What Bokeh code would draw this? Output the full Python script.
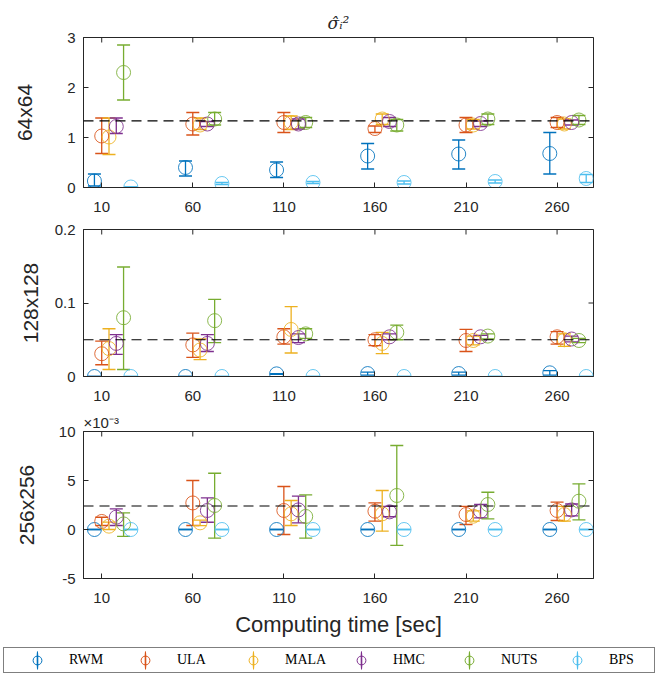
import math
from bokeh.plotting import figure
from bokeh.models import (ColumnDataSource, Whisker, TeeHead, Span, FixedTicker,
                          Range1d, Legend, LegendItem, Title)
from bokeh.layouts import column
from bokeh.embed import file_html
from bokeh.resources import INLINE

# ---------------- data ----------------
methods = ["RWM", "ULA", "MALA", "HMC", "NUTS", "BPS"]
colors = ["#0072BD", "#D95319", "#EDB120", "#7E2F8E", "#77AC30", "#4DBEEE"]
times = [10, 60, 110, 160, 210, 260]
time_labels = ["10", "60", "110", "160", "210", "260"]
method_offsets = [-4, 0, 4, 8, 12, 16]   # horizontal dodge per method (sec)
x_limits = (0, 280)

# 64x64 : rows = methods, columns = times
mean_64 = [[0.13, 0.40, 0.35, 0.63, 0.67, 0.68],
           [1.03, 1.27, 1.30, 1.18, 1.25, 1.30],
           [1.01, 1.25, 1.30, 1.37, 1.25, 1.27],
           [1.22, 1.27, 1.27, 1.32, 1.28, 1.30],
           [2.30, 1.37, 1.30, 1.25, 1.37, 1.35],
           [0.01, 0.08, 0.10, 0.10, 0.12, 0.18]]
low_64 = [[0.03, 0.23, 0.20, 0.37, 0.37, 0.27],
          [0.68, 1.05, 1.10, 1.10, 1.10, 1.20],
          [0.66, 1.16, 1.16, 1.26, 1.17, 1.17],
          [1.08, 1.22, 1.17, 1.22, 1.22, 1.25],
          [1.75, 1.25, 1.20, 1.13, 1.26, 1.26],
          [0.01, 0.06, 0.08, 0.07, 0.09, 0.10]]
high_64 = [[0.27, 0.53, 0.51, 0.88, 0.95, 1.10],
           [1.39, 1.50, 1.50, 1.23, 1.40, 1.40],
           [1.39, 1.39, 1.43, 1.47, 1.36, 1.37],
           [1.39, 1.32, 1.37, 1.40, 1.33, 1.35],
           [2.85, 1.50, 1.40, 1.36, 1.47, 1.44],
           [0.01, 0.10, 0.12, 0.13, 0.15, 0.26]]
true_64 = 1.333

# 128x128
mean_128 = [[0.0, 0.0, 0.0036, 0.004, 0.004, 0.005],
            [0.031, 0.043, 0.054, 0.050, 0.049, 0.054],
            [0.038, 0.036, 0.064, 0.045, 0.049, 0.050],
            [0.045, 0.045, 0.053, 0.054, 0.054, 0.051],
            [0.080, 0.076, 0.058, 0.060, 0.055, 0.049],
            [0.0, 0.0, 0.0, 0.0, 0.0, 0.0]]
low_128 = [[0.0, 0.0, 0.003, 0.002, 0.002, 0.002],
           [0.016, 0.026, 0.044, 0.042, 0.034, 0.044],
           [0.0095, 0.023, 0.032, 0.031, 0.043, 0.041],
           [0.030, 0.034, 0.046, 0.050, 0.050, 0.047],
           [0.0095, 0.046, 0.052, 0.050, 0.051, 0.046],
           [0.0, 0.0, 0.0, 0.0, 0.0, 0.0]]
high_128 = [[0.0, 0.0, 0.004, 0.006, 0.006, 0.008],
            [0.048, 0.059, 0.065, 0.057, 0.064, 0.061],
            [0.065, 0.051, 0.095, 0.060, 0.055, 0.058],
            [0.057, 0.057, 0.058, 0.058, 0.056, 0.055],
            [0.149, 0.105, 0.065, 0.070, 0.058, 0.052],
            [0.0, 0.0, 0.0, 0.0, 0.0, 0.0]]
true_128 = 0.05

# 256x256 (values in units of 1e-3)
mean_256 = [[0.0, 0.0, 0.0, 0.0, 0.0, 0.0],
            [0.82, 2.71, 1.94, 1.87, 1.53, 1.94],
            [0.34, 0.68, 1.60, 1.60, 1.36, 1.53],
            [1.26, 1.94, 2.00, 1.80, 1.87, 2.00],
            [0.57, 2.45, 1.33, 3.47, 2.55, 2.89],
            [0.0, 0.0, 0.0, 0.0, 0.0, 0.0]]
low_256 = [[0.0, 0.0, 0.0, 0.0, 0.0, 0.0],
           [0.41, 0.41, -0.51, 0.85, 0.51, 0.92],
           [0.0, 0.40, 0.41, -0.17, 0.85, 0.85],
           [0.41, 0.74, 0.68, 1.30, 1.19, 1.40],
           [-0.71, -0.89, -0.89, -1.63, 1.09, 0.98],
           [0.0, 0.0, 0.0, 0.0, 0.0, 0.0]]
high_256 = [[0.0, 0.0, 0.0, 0.0, 0.0, 0.0],
            [1.25, 5.00, 4.39, 2.71, 2.35, 2.80],
            [0.75, 0.95, 2.96, 3.98, 1.90, 2.35],
            [2.10, 3.22, 3.40, 2.35, 2.55, 2.60],
            [1.70, 5.74, 3.53, 8.57, 3.80, 4.66],
            [0.0, 0.0, 0.0, 0.0, 0.0, 0.0]]
true_256 = 2.4

yticks_64 = [0, 1, 2, 3]
yticklabels_64 = ["0", "1", "2", "3"]
ylim_64 = (0, 3)
yticks_128 = [0, 0.1, 0.2]
yticklabels_128 = ["0", "0.1", "0.2"]
ylim_128 = (0, 0.2)
yticks_256 = [-5, 0, 5, 10]
yticklabels_256 = ["-5", "0", "5", "10"]
ylim_256 = (-5, 10)

AX = "#262626"
FONT = "Liberation Sans"
W = 659


def style_axis(ax):
    ax.major_tick_in = 5
    ax.major_tick_out = 0
    ax.minor_tick_line_color = None
    ax.axis_line_color = AX
    ax.major_tick_line_color = AX
    ax.major_label_text_font = FONT
    ax.major_label_text_font_size = "15px"
    ax.major_label_text_color = AX
    ax.major_label_standoff = 14


def make_panel(mean, low, high, true_val, yticks, ylabels, yrange, ylabel,
               height, b_top, b_bot, lab_standoff):
    p = figure(width=W, height=height, x_range=Range1d(*x_limits),
               y_range=Range1d(*yrange), output_backend="svg",
               toolbar_location=None, min_border_left=83, min_border_right=66,
               min_border_top=b_top, min_border_bottom=b_bot)
    p.grid.visible = False
    p.outline_line_color = AX
    p.xaxis.ticker = FixedTicker(ticks=times)
    p.xaxis.major_label_overrides = dict(zip(times, time_labels))
    p.yaxis.ticker = FixedTicker(ticks=yticks)
    p.yaxis.major_label_overrides = dict(zip(yticks, ylabels))
    for ax in p.axis:
        style_axis(ax)
    p.yaxis.major_label_standoff = 8
    p.yaxis.axis_label = ylabel
    p.yaxis.axis_label_text_font = FONT
    p.yaxis.axis_label_text_font_size = "21px"
    p.yaxis.axis_label_text_font_style = "normal"
    p.yaxis.axis_label_text_color = AX
    p.yaxis.axis_label_standoff = lab_standoff

    # box ticks on the right and top edges (inward; outer halves are clipped)
    p.scatter([x_limits[1]] * len(yticks), yticks, marker="dash", size=10,
              line_color=AX, line_width=1)
    p.scatter(times, [yrange[1]] * len(times), marker="dash", size=10,
              angle=math.pi / 2, line_color=AX, line_width=1)

    for i, (m, c) in enumerate(zip(methods, colors)):
        xs = [t + method_offsets[i] for t in times]
        src = ColumnDataSource(dict(x=xs, y=mean[i], lo=low[i], hi=high[i]))
        w = Whisker(base="x", lower="lo", upper="hi", source=src,
                    dimension="height", line_color=c, line_width=1.3,
                    upper_head=TeeHead(size=13, line_color=c, line_width=1.3),
                    lower_head=TeeHead(size=13, line_color=c, line_width=1.3))
        p.add_layout(w)
        p.scatter("x", "y", source=src, marker="circle", size=14,
                  fill_color=None, line_color=c, line_width=1,
                  line_alpha=0.85)

    p.add_layout(Span(location=true_val, dimension="width", line_color="black",
                      line_dash="10 6", line_width=1.2))
    return p


f1 = make_panel(mean_64, low_64, high_64, true_64, yticks_64,
                yticklabels_64, ylim_64, "64x64", 219, 37, 32, 28)
f1.title = Title(text="σ̂ᵢ²", align="center", text_font="DejaVu Serif",
                 text_font_style="italic", text_font_size="17px",
                 text_color=AX)

f2 = make_panel(mean_128, low_128, high_128, true_128, yticks_128,
                yticklabels_128, ylim_128, "128x128", 189, 10, 32, 10)

f3 = make_panel(mean_256, low_256, high_256, true_256, yticks_256,
                yticklabels_256, ylim_256, "256x256", 234, 23, 64, 18)
f3.title = Title(text="×10⁻³", align="left", text_font=FONT,
                 text_font_style="normal", text_font_size="15px",
                 text_color=AX, standoff=2)
xb = f3.below[0]
xb.axis_label = "Computing time [sec]"
xb.axis_label_text_font = FONT
xb.axis_label_text_font_size = "22px"
xb.axis_label_text_font_style = "normal"
xb.axis_label_text_color = AX
xb.axis_label_standoff = 6

# legend strip (circle + vertical error bar icon), a separate root
lf = figure(width=W, height=32, x_range=Range1d(0, 1), y_range=Range1d(0, 1),
            x_axis_type=None, y_axis_type=None, min_border=0,
            min_border_left=0, min_border_right=0, min_border_top=0,
            min_border_bottom=0, outline_line_color=None,
            output_backend="svg", toolbar_location=None)
items = []
for m, c in zip(methods, colors):
    # proxy renderers for the legend icons (their point lies outside the view)
    r1 = lf.scatter(x=[-1], y=[-1], marker="circle", size=10,
                    fill_color=None, line_color=c, line_width=1)
    r2 = lf.ellipse(x=[-1], y=[-1], width=1, height=40, width_units="screen",
                    height_units="screen", fill_color=None, line_color=c,
                    line_width=1.2)
    items.append(LegendItem(label=m, renderers=[r1, r2]))
leg = Legend(items=items, orientation="horizontal", location=(3, 1),
             border_line_color="black", border_line_width=1,
             background_fill_color="white", background_fill_alpha=1,
             label_text_font="Liberation Serif", label_text_font_size="14px",
             label_text_color="#000000", glyph_width=64, glyph_height=22,
             label_standoff=0, label_width=44, spacing=0, padding=1,
             margin=0)
lf.add_layout(leg)

panels = column(f1, f2, f3, spacing=0)
open("out.html", "w").write(file_html([panels, lf], INLINE))
